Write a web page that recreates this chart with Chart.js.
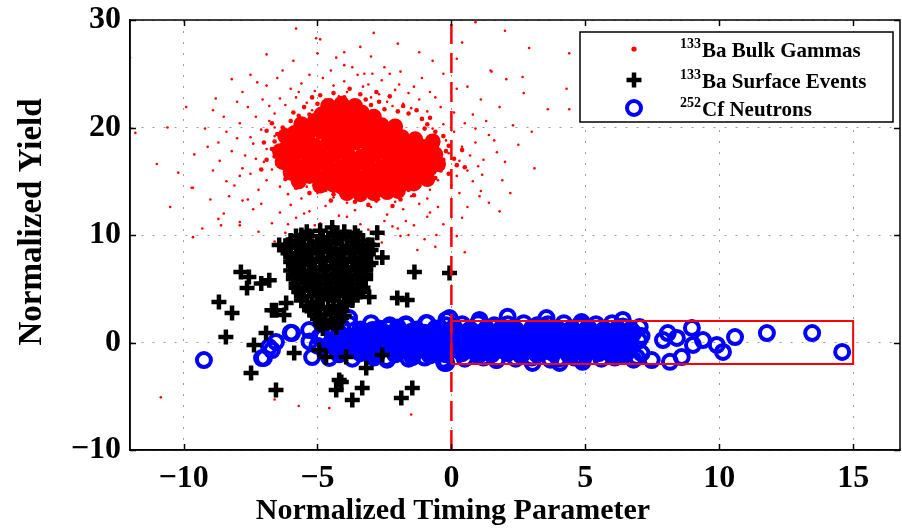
<!DOCTYPE html>
<html>
<head>
<meta charset="utf-8">
<title>Normalized Yield vs Timing Parameter</title>
<script src="https://cdn.jsdelivr.net/npm/chart.js@4.4.1/dist/chart.umd.min.js"></script>
<style>
  html, body { margin: 0; padding: 0; background: #fff; overflow: hidden; }
  #wrap { position: relative; width: 902px; height: 529px; }
</style>
</head>
<body>
<div id="wrap"><canvas id="scatter" width="902" height="529"></canvas></div>
<script>
// Achsen
const X_RANGE = [-12, 16.75];
const Y_RANGE = [-10, 30];
const X_TICKS = [-10, -5, 0, 5, 10, 15];
const Y_TICKS = [-10, 0, 10, 20, 30];
const X_TITLE = 'Normalized Timing Parameter';
const Y_TITLE = 'Normalized Yield';

// Legende (Hochzahl + Text)
const LEGEND_SUP = ['133', '133', '252'];
const LEGEND_TEXT = ['Ba Bulk Gammas', 'Ba Surface Events', 'Cf Neutrons'];

// Schnitt bei t = 0 und Signalbox
const cutLineX = [0, 0];
const cutLineY = [-10, 30];
const boxX = [0, 15, 15, 0, 0];
const boxY = [-2, -2, 2, 2, -2];

// 133Ba Bulk-Gammas: dichter Kern (grosse Punkte)
const bulkCore = [
  [-4.6,22.0],[-4.1,22.2],[-3.6,22.0],
  [-4.85,21.2],[-4.35,21.5],[-3.85,21.3],[-3.35,21.4],[-2.9,21.0],
  [-5.6,20.3],[-5.1,20.6],[-4.6,20.4],[-4.1,20.5],[-3.6,20.3],[-3.1,20.5],[-2.6,20.2],[-2.1,20.1],
  [-6.2,19.2],[-5.85,19.5],[-5.35,19.4],[-4.85,19.6],[-4.35,19.4],[-3.85,19.5],[-3.35,19.3],[-2.85,19.4],[-2.35,19.2],[-1.85,19.1],[-1.35,18.9],
  [-6.1,18.3],[-5.6,18.5],[-5.1,18.3],[-4.6,18.5],[-4.1,18.4],[-3.6,18.6],[-3.1,18.4],[-2.6,18.5],[-2.1,18.3],[-1.6,18.4],[-1.1,18.2],[-0.75,18.1],
  [-6.4,17.8],[-0.7,18.7],
  [-6.2,17.3],[-5.85,17.5],[-5.35,17.4],[-4.85,17.3],[-4.35,17.5],[-3.85,17.4],[-3.35,17.3],[-2.85,17.5],[-2.35,17.4],[-1.85,17.3],[-1.35,17.4],[-0.85,17.2],[-0.6,17.5],
  [-6.3,16.8],[-0.5,16.6],
  [-5.9,16.4],[-5.6,16.3],[-5.1,16.5],[-4.6,16.4],[-4.1,16.3],[-3.6,16.5],[-3.1,16.4],[-2.6,16.3],[-2.1,16.5],[-1.6,16.3],[-1.1,16.4],[-0.8,16.2],
  [-6.0,15.8],[-5.7,15.0],[-0.9,15.2],
  [-5.3,15.5],[-4.85,15.3],[-4.35,15.4],[-3.85,15.5],[-3.35,15.3],[-2.85,15.4],[-2.35,15.5],[-1.85,15.3],[-1.35,15.4],[-1.05,15.6],
  [-4.9,14.6],[-4.4,14.7],[-4.1,14.5],[-3.6,14.6],[-3.1,14.7],[-2.6,14.5],[-2.1,14.6],[-1.8,14.8],[-1.4,14.8],
  [-3.9,13.9],[-3.4,13.8],[-2.9,13.9],[-2.4,14.0],[-2.0,14.1]
];

// Uebergangszone um den Kern (mittlere Punkte)
const bulkMid = [
  [-5.9,21.4],[-5.5,21.9],[-5.3,21.2],[-5.0,22.2],[-4.7,21.8],[-4.5,22.5],[-4.2,22.1],[-4.0,22.8],
  [-3.7,22.3],[-3.5,22.0],[-3.2,22.6],[-3.0,22.1],[-2.7,22.4],[-2.5,21.7],[-2.3,22.9],[-2.0,21.5],
  [-1.8,22.0],[-1.6,21.3],[-1.3,21.6],[-1.1,20.8],[-4.4,23.2],[-3.8,23.6],[-5.2,22.8],[-2.8,23.3],
  [-4.9,23.0],[-3.4,23.1],
  [-0.9,20.3],[-0.6,19.6],[-0.3,19.2],[-0.5,18.6],[-0.1,18.3],[-0.2,17.8],[0.1,17.1],[-0.3,17.0],
  [0.2,16.5],[-0.4,16.0],[-0.1,15.7],[-0.6,15.3],[-0.9,14.9],[-1.2,14.6],[0.4,17.9],[0.5,16.3],
  [-0.8,20.9],[-1.0,19.9],
  [-1.6,14.2],[-2.0,13.9],[-2.3,14.3],[-2.6,13.8],[-2.9,14.1],[-3.2,13.7],[-3.5,14.0],[-3.8,13.6],
  [-4.1,14.0],[-4.4,13.8],[-4.7,14.2],[-5.0,14.6],[-1.9,13.3],[-2.8,13.2],[-3.6,13.1],[-4.5,13.2],
  [-5.3,13.9],[-1.4,13.7],[-3.1,12.8],[-2.2,12.7],
  [-5.6,14.9],[-5.9,15.4],[-6.2,16.0],[-6.5,16.6],[-6.6,17.3],[-6.7,18.0],[-6.6,18.7],[-6.5,19.4],
  [-6.3,20.0],[-6.0,20.6],[-5.7,21.1],[-6.9,17.0],[-7.0,18.6],[-6.9,19.7],[-6.2,15.2],[-5.8,14.4],
  [-7.1,16.1],[-6.7,20.4]
];

// Streupunkte rundherum (kleine Punkte)
const bulkHalo = [
  [-6.2,22.1],[-5.8,22.8],[-5.4,22.3],[-5.1,23.4],[-4.7,22.6],[-4.4,23.9],[-4.2,22.9],[-3.9,23.3],
  [-3.6,22.5],[-3.3,23.8],[-3.0,22.8],[-2.7,23.1],[-2.4,22.4],[-2.1,23.5],[-1.8,22.2],[-1.5,21.8],
  [-1.2,22.6],[-0.9,21.5],[-6.6,21.3],[-5.6,24.1],[-4.8,24.6],[-4.0,24.3],[-3.5,24.9],[-2.6,24.4],
  [-2.2,22.0],[-4.6,21.9],[-3.7,21.9],[-5.2,21.6],[-2.9,21.6],[-6.0,23.6],[-1.6,23.2],[-0.6,22.8],
  [-6.8,20.6],[-7.1,19.8],[-6.6,19.2],[-7.4,18.5],[-6.9,18.0],[-7.7,17.4],[-7.0,16.8],[-6.7,16.1],
  [-7.5,15.7],[-6.9,15.1],[-6.4,14.5],[-7.2,14.2],[-6.1,13.8],[-8.0,19.0],[-7.8,16.2],[-7.3,21.0],
  [-8.2,17.8],[-6.5,17.5],[-6.6,20.0],[-7.9,20.4],[-8.4,15.0],[-7.6,13.3],
  [-0.3,20.3],[0.1,19.6],[-0.2,18.8],[0.4,18.2],[-0.1,17.6],[0.3,16.9],[0.7,17.4],[-0.3,16.2],
  [0.2,15.5],[0.6,16.0],[-0.5,15.1],[0.9,18.6],[1.2,17.0],[0.5,20.4],[-0.7,19.9],[0.0,14.6],
  [-0.8,14.2],[0.8,15.0],[1.4,19.3],[1.1,14.1],
  [-6.0,12.8],[-5.6,13.4],[-5.3,12.2],[-5.0,13.9],[-4.7,12.7],[-4.4,13.5],[-4.2,11.8],[-3.9,13.0],
  [-3.6,12.3],[-3.3,13.8],[-3.0,12.6],[-2.7,13.3],[-2.4,11.9],[-2.1,13.1],[-1.8,12.4],[-1.5,13.6],
  [-1.2,12.9],[-0.9,13.4],[-0.5,12.6],[-5.8,11.6],[-4.9,11.1],[-3.4,11.0],[-2.8,10.8],[-1.7,11.3],
  [-4.5,10.6],[-3.8,14.2],[-2.3,14.1],[-1.3,14.3],[-5.4,14.5],[-6.4,12.1],[-5.1,10.9],[-2.0,10.6],
  [-5.05,28.3],[-4.9,28.2],[-4.0,27.0],[-5.9,26.2],[-4.0,25.8],[-7.5,24.9],[-7.25,24.2],[-6.9,23.9],
  [-7.05,22.6],[-8.4,19.6],[-8.65,16.9],[-9.65,14.4],[-9.3,10.6],[-8.5,12.0],[-7.8,13.2],[-7.9,11.2],
  [-0.7,26.2],[-2.3,25.0],[-3.25,25.0],[-2.95,25.0],[1.5,25.2],[1.1,22.6],[1.6,18.8],[1.15,15.6],
  [1.05,13.6],[0.6,12.6],[-0.8,12.1],[-2.2,10.8],[0.9,29.8],[2.0,29.0],[2.9,27.4],[4.4,26.9],
  [0.2,26.4],[1.46,25.3],[-0.3,25.0],[2.05,24.5],[2.66,24.7],[2.7,23.2],[4.3,23.6],[0.6,23.8],
  [0.2,23.6],[3.6,21.7],[4.4,21.7],[-1.4,23.8],[-1.95,24.0],[-12.0,26.5],[-11.8,19.5],[-10.6,20.0],
  [-11.0,16.6],[-9.7,14.4],[-9.65,9.8],[-10.85,-5.1],[-6.6,-5.3],[-5.7,-5.9],[-4.56,-6.1],[-1.5,-6.7],
  [-8.9,21.6],[-9.1,18.2],[-8.8,22.7],[-6.3,25.3],[-3.0,26.6],[-2.0,27.8],[2.3,20.2],[2.0,16.8],
  [1.8,12.2],[-1.0,9.6],[-6.6,9.4],[-7.2,10.3],[-3.1,9.2],[-1.27,8.6],[-1.6,10.0],[-0.56,10.0],
  [-8.6,10.9],[-6.7,11.1],[-7.9,10.9],
  [-6.4,22.7],[-5.7,23.3],[-5.3,24.9],[-4.5,25.3],[-3.7,25.6],[-3.1,24.0],[-2.5,25.6],[-1.9,25.2],
  [-1.1,24.6],[-0.8,23.3],[-0.4,21.9],[-6.8,22.0],[-7.6,21.9],[-7.8,23.3],[-6.5,24.6],[-4.3,26.5],
  [-5.0,26.9],[-3.4,27.5],[-6.9,26.8],[-8.2,24.5],[-2.9,28.8],[-1.2,27.0],[0.4,27.9],[-5.8,29.2],
  [-8.5,21.0],[-9.2,19.9],[-8.7,18.6],[-9.6,17.5],[-8.9,16.0],[-8.1,14.6],[-9.0,13.3],[-8.3,13.6],
  [-7.4,12.4],[-8.7,11.5],[-10.2,15.8],[-9.9,21.9],[-10.5,12.6],[-7.1,12.9],[-8.0,22.4],[-7.5,19.1],
  [-7.3,17.1],[-7.9,15.5],
  [0.8,21.2],[1.3,20.6],[0.9,19.9],[1.7,17.7],[1.0,16.4],[1.9,15.1],[1.4,13.0],[0.3,13.9],
  [0.4,11.6],[2.5,18.4],[2.2,13.9],[3.1,16.2],[1.8,21.9],[3.0,19.6],[0.1,21.4],
  [-6.1,11.0],[-5.5,12.0],[-4.8,10.1],[-3.9,11.7],[-3.1,10.5],[-2.5,11.3],[-1.4,10.9],[-0.3,11.0],
  [-0.9,11.7],[-1.9,9.9],[-3.6,9.8],[-5.4,10.5],[-2.6,9.3],[0.2,9.9],[-4.2,9.1],[-6.2,10.2],
  [-0.6,8.9],[0.5,8.4]
];

// 133Ba Oberflaechen-Ereignisse
const surfaceEvents = [
  [-5.4,10.3],[-4.9,10.4],[-4.4,10.2],[-4.0,10.3],[-3.6,10.2],
  [-5.8,9.9],[-5.3,9.9],[-4.8,9.8],[-4.3,9.9],[-3.9,9.8],[-3.5,9.9],
  [-6.0,9.5],[-5.5,9.6],[-5.0,9.4],[-4.6,9.5],[-4.1,9.6],[-3.7,9.4],[-3.3,9.5],
  [-6.1,9.1],[-5.6,9.1],[-5.2,9.0],[-4.7,9.1],[-4.3,9.2],[-3.9,9.0],[-3.5,9.1],[-3.1,9.1],
  [-6.2,8.7],[-5.7,8.8],[-5.3,8.6],[-4.9,8.7],[-4.5,8.8],[-4.1,8.6],[-3.7,8.7],[-3.3,8.8],[-3.0,8.6],
  [-6.1,8.3],[-5.8,8.3],[-5.4,8.2],[-5.0,8.3],[-4.6,8.4],[-4.2,8.2],[-3.8,8.3],[-3.4,8.3],[-3.1,8.2],
  [-6.0,7.9],[-5.6,8.0],[-5.2,7.8],[-4.8,7.9],[-4.4,8.0],[-4.0,7.8],[-3.6,7.9],[-3.2,8.0],
  [-6.0,7.5],[-5.7,7.5],[-5.3,7.4],[-4.9,7.5],[-4.5,7.6],[-4.1,7.4],[-3.7,7.5],[-3.3,7.5],[-3.0,7.4],
  [-5.9,7.1],[-5.5,7.2],[-5.1,7.0],[-4.7,7.1],[-4.3,7.2],[-3.9,7.0],[-3.5,7.1],[-3.1,7.2],
  [-6.0,6.7],[-5.6,6.7],[-5.2,6.6],[-4.8,6.7],[-4.4,6.8],[-4.0,6.6],[-3.6,6.7],[-3.2,6.7],
  [-5.9,6.3],[-5.5,6.4],[-5.1,6.2],[-4.7,6.3],[-4.3,6.4],[-3.9,6.2],[-3.5,6.3],[-3.2,6.3],
  [-5.9,5.9],[-5.5,5.9],[-5.1,5.8],[-4.7,5.9],[-4.3,6.0],[-3.9,5.8],[-3.5,5.9],[-3.2,5.9],
  [-5.8,5.5],[-5.4,5.6],[-5.0,5.4],[-4.6,5.5],[-4.2,5.6],[-3.8,5.4],[-3.4,5.5],
  [-5.8,5.1],[-5.3,5.1],[-4.9,5.0],[-4.5,5.1],[-4.1,5.2],[-3.7,5.0],[-3.3,5.1],
  [-5.7,4.7],[-5.3,4.8],[-4.9,4.6],[-4.5,4.7],[-4.1,4.8],[-3.7,4.6],[-3.4,4.7],
  [-5.6,4.3],[-5.2,4.3],[-4.8,4.2],[-4.4,4.3],[-4.0,4.4],[-3.7,4.2],
  [-5.6,3.9],[-5.2,3.8],[-4.8,4.0],[-4.4,3.9],[-4.0,3.8],[-3.7,3.9],
  [-5.4,3.4],[-5.0,3.4],[-4.6,3.3],[-4.2,3.4],[-3.9,3.5],
  [-5.3,3.0],[-4.9,3.1],[-4.5,2.9],[-4.1,3.0],
  [-5.1,2.6],[-4.7,2.6],[-4.3,2.7],[-4.0,2.5],
  [-5.0,2.2],[-4.5,2.1],[-4.1,2.3],
  [-4.9,1.7],[-4.4,1.8],
  [-4.8,1.3],[-4.3,1.4],
  [-4.45,10.7],[-2.77,10.2],[-5.6,10.0],[-6.43,9.07],[-2.95,9.07],[-2.58,7.9],[-7.86,6.56],[-7.56,6.1],
  [-7.1,5.5],[-6.8,5.8],[-7.63,5.07],[-1.38,6.56],[-0.07,6.47],[-8.68,3.77],[-8.19,2.74],[-3.07,4.23],
  [-2.02,4.14],[-1.65,3.95],[-6.55,3.0],[-6.92,0.88],[-8.42,0.51],[-7.37,-0.23],[-5.87,-0.98],[-7.48,-2.84],
  [-6.55,-4.42],[-4.11,-3.67],[-4.30,-4.42],[-3.7,-5.35],[-3.33,-4.23],[-1.87,-5.16],[-1.46,-4.23],[-2.58,-1.16],
  [-3.18,-2.37],[-3.93,-1.35],[-4.94,-0.7],[-4.68,-1.35],[-4.19,-3.49],[-6.25,2.56],[-6.17,3.67],[-6.7,3.0]
];

// 252Cf Neutronen: einzelne Ringe und Randreihen des Bandes
const cfNeutrons = [
  [10.59,0.51],[11.78,0.88],[13.47,0.88],[14.59,-0.88],[10.14,-0.88],[9.91,-0.23],[9.39,0.23],[8.98,1.35],
  [9.02,-0.23],[8.08,0.88],[7.9,0.23],[8.42,0.42],[8.6,-1.35],[8.16,-1.8],[7.48,-1.63],[7.03,1.44],
  [6.4,2.1],[6.92,-1.35],[1.68,-1.63],[3.03,-1.9],[4.04,-1.9],[4.9,-1.8],[-0.26,-1.9],[2.1,2.4],
  [3.55,2.28],[1.05,2.1],[4.86,1.9],[-0.07,2.28],[-9.24,-1.63],[-7.0,-1.44],[-6.81,-0.42],[-6.55,0.05],
  [-5.95,0.88],[-5.31,1.16],[-4.94,0.51],[-5.2,-1.35],[-4.56,-1.44],[-3.82,2.28],[-4.08,1.44],[-3.44,0.88],
  [-2.95,1.16],[-2.32,1.35],[-1.68,1.63],[-0.94,1.81],[-0.19,2.1],[-2.43,-1.44],[-1.46,-1.35],[-0.19,-1.9],
  [-2.95,-0.7],[-3.82,-0.42],[-7.07,-1.45],[-6.7,-0.7],[-6.0,0.9],
  [-3.8,1.7],[-3.0,1.8],[-2.3,1.6],[-1.7,1.7],[-0.9,1.8],[-0.2,1.6],[0.4,1.7],[1.0,1.8],[1.6,1.6],
  [2.1,1.7],[2.7,1.8],[3.2,1.6],[3.6,1.7],[4.2,1.8],[4.9,1.6],[5.4,1.7],[6.0,1.8],[6.4,1.5],
  [-3.7,-1.5],[-2.9,-1.4],[-2.4,-1.6],[-1.6,-1.5],[-1.0,-1.4],[-0.3,-1.6],[0.5,-1.5],[1.2,-1.4],
  [1.7,-1.6],[2.4,-1.5],[3.0,-1.4],[3.7,-1.6],[4.0,-1.5],[4.6,-1.4],[4.9,-1.6],[5.6,-1.5],
  [6.1,-1.4],[6.8,-1.6],
  [-5.0,-0.3],[-4.8,0.5],[-5.3,0.1],[-4.6,-0.7],[-4.4,1.3],[-4.2,-1.1],[7.1,0.6],[7.0,0.2],[7.1,-1.0]
];

// 252Cf Neutronen: dicht ueberlappende Ereignisse im Inneren des Bandes
const cfBand = [
  [-3.4,1.2],[-2.7,1.3],[-2.0,1.4],[-1.3,1.2],[-0.6,1.3],[0.1,1.4],[0.7,1.2],[1.3,1.3],
  [1.9,1.4],[2.4,1.2],[3.0,1.3],[3.5,1.4],[4.0,1.2],[4.5,1.3],[5.1,1.4],[5.7,1.2],[6.2,1.3],[6.7,1.2],
  [-4.2,0.9],[-3.4,0.8],[-2.9,1.0],[-2.5,0.9],[-2.0,0.8],[-1.5,1.0],[-1.0,0.9],[-0.6,0.8],[-0.1,1.0],
  [0.3,0.9],[0.7,0.8],[1.2,1.0],[1.6,0.9],[2.0,0.8],[2.4,1.0],[2.9,0.9],[3.3,0.8],[3.7,1.0],
  [4.2,0.9],[4.6,0.8],[5.0,1.0],[5.5,0.9],[5.9,0.8],[6.3,1.0],[6.8,0.9],
  [-4.2,0.4],[-3.8,0.6],[-3.4,0.5],[-3.0,0.4],[-2.6,0.6],[-2.2,0.5],[-1.8,0.4],[-1.4,0.6],
  [-1.0,0.5],[-0.6,0.4],[-0.2,0.6],[0.2,0.5],[0.6,0.4],[1.0,0.6],[1.4,0.5],[1.8,0.4],[2.2,0.6],
  [2.6,0.5],[3.0,0.4],[3.4,0.6],[3.8,0.5],[4.2,0.4],[4.6,0.6],[5.0,0.5],[5.4,0.4],[5.8,0.6],
  [6.2,0.5],[6.6,0.4],
  [-4.5,0.0],[-4.0,0.2],[-3.6,0.1],[-3.2,0.0],[-2.8,0.2],[-2.4,0.1],[-2.0,0.0],[-1.6,0.2],
  [-1.2,0.1],[-0.8,0.0],[-0.4,0.2],[0.0,0.1],[0.4,0.0],[0.8,0.2],[1.2,0.1],[1.6,0.0],[2.0,0.2],
  [2.4,0.1],[2.8,0.0],[3.2,0.2],[3.6,0.1],[4.0,0.0],[4.4,0.2],[4.8,0.1],[5.2,0.0],[5.6,0.2],
  [6.0,0.1],[6.5,0.0],
  [-4.4,-0.4],[-3.9,-0.2],[-3.4,-0.3],[-3.0,-0.4],[-2.6,-0.2],[-2.2,-0.3],[-1.8,-0.4],
  [-1.4,-0.2],[-1.0,-0.3],[-0.6,-0.4],[-0.2,-0.2],[0.2,-0.3],[0.6,-0.4],[1.0,-0.2],[1.4,-0.3],
  [1.8,-0.4],[2.2,-0.2],[2.6,-0.3],[3.0,-0.4],[3.4,-0.2],[3.8,-0.3],[4.2,-0.4],[4.6,-0.2],
  [5.0,-0.3],[5.4,-0.4],[5.8,-0.2],[6.2,-0.3],[6.7,-0.4],
  [-4.1,-0.8],[-3.6,-0.6],[-3.1,-0.7],[-2.7,-0.8],[-2.2,-0.6],[-1.8,-0.7],[-1.3,-0.8],
  [-0.9,-0.6],[-0.5,-0.7],[-0.1,-0.8],[0.3,-0.6],[0.7,-0.7],[1.1,-0.8],[1.5,-0.6],[1.9,-0.7],
  [2.3,-0.8],[2.7,-0.6],[3.1,-0.7],[3.5,-0.8],[3.9,-0.6],[4.3,-0.7],[4.7,-0.8],[5.1,-0.6],
  [5.5,-0.7],[5.9,-0.8],[6.3,-0.6],
  [-3.4,-1.0],[-2.8,-1.2],[-2.1,-1.1],[-1.5,-1.0],[-0.8,-1.2],[-0.2,-1.1],[0.4,-1.0],
  [1.0,-1.2],[1.5,-1.1],[2.1,-1.0],[2.6,-1.2],[3.2,-1.1],[3.8,-1.0],[4.4,-1.2],[5.0,-1.1],
  [5.5,-1.0],[6.0,-1.2],[6.5,-1.1]
];

const toXY = pts => pts.map(([x, y]) => ({ x, y }));
const zip = (xs, ys) => xs.map((x, i) => ({ x, y: ys[i] }));
const fmtTick = v => (v < 0 ? '\u2212' + Math.abs(v) : String(v));

const SERIF = "'Liberation Serif', 'Times New Roman', serif";
Chart.defaults.font.family = SERIF;
Chart.defaults.color = '#000';

// Rahmen, Innenticks, Achsentitel und Legende im MATLAB-Stil
const matlabFrame = {
  id: 'matlabFrame',
  afterDatasetsDraw(chart) {
    const { ctx, chartArea: a, scales } = chart;
    ctx.save();
    ctx.strokeStyle = '#000';
    ctx.lineWidth = 1.5;
    ctx.strokeRect(a.left, a.top, a.right - a.left, a.bottom - a.top);
    ctx.beginPath();
    X_TICKS.forEach(v => {
      const px = Math.round(scales.x.getPixelForValue(v)) + 0.5;
      ctx.moveTo(px, a.bottom); ctx.lineTo(px, a.bottom - 6);
      ctx.moveTo(px, a.top); ctx.lineTo(px, a.top + 6);
    });
    Y_TICKS.forEach(v => {
      const py = Math.round(scales.y.getPixelForValue(v)) + 0.5;
      ctx.moveTo(a.left, py); ctx.lineTo(a.left + 6, py);
      ctx.moveTo(a.right, py); ctx.lineTo(a.right - 6, py);
    });
    ctx.stroke();
    ctx.restore();
  },
  afterDraw(chart) {
    const { ctx } = chart;
    ctx.save();
    ctx.fillStyle = '#000';

    // Achsentitel
    ctx.font = 'bold 30px ' + SERIF;
    ctx.textAlign = 'center';
    ctx.textBaseline = 'alphabetic';
    ctx.fillText(X_TITLE, 453, 519);
    ctx.save();
    ctx.translate(41, 222);
    ctx.rotate(-Math.PI / 2);
    ctx.font = 'bold 33px ' + SERIF;
    ctx.fillText(Y_TITLE, 0, 0);
    ctx.restore();

    // Legende
    const box = { x: 580, y: 32, w: 313, h: 90 };
    ctx.fillStyle = '#fff';
    ctx.fillRect(box.x, box.y, box.w, box.h);
    ctx.strokeStyle = '#000';
    ctx.lineWidth = 1.5;
    ctx.strokeRect(box.x, box.y, box.w, box.h);

    const rowY = [49, 80, 108];
    const mx = 634;
    ctx.fillStyle = '#ff0000';
    ctx.beginPath(); ctx.arc(mx, rowY[0], 2.6, 0, Math.PI * 2); ctx.fill();
    ctx.strokeStyle = '#000'; ctx.lineWidth = 4.5;
    ctx.beginPath();
    ctx.moveTo(mx - 7.5, rowY[1]); ctx.lineTo(mx + 7.5, rowY[1]);
    ctx.moveTo(mx, rowY[1] - 7.5); ctx.lineTo(mx, rowY[1] + 7.5);
    ctx.stroke();
    ctx.strokeStyle = '#0000ff'; ctx.lineWidth = 4;
    ctx.beginPath(); ctx.arc(mx, rowY[2], 7, 0, Math.PI * 2); ctx.stroke();

    ctx.fillStyle = '#000';
    ctx.textAlign = 'left';
    LEGEND_TEXT.forEach((t, i) => {
      const base = rowY[i] + 8;
      ctx.font = 'bold 14px ' + SERIF;
      ctx.fillText(LEGEND_SUP[i], 680, base - 9);
      const w = ctx.measureText(LEGEND_SUP[i]).width;
      ctx.font = 'bold 21px ' + SERIF;
      ctx.fillText(t, 680 + w + 1, base);
    });
    ctx.restore();
  }
};

const pointSet = (label, pts, opts) => ({
  label,
  data: toXY(pts),
  showLine: false,
  pointStyle: 'circle',
  ...opts
});

const redDots = (r, order) => ({
  order, pointRadius: r, pointBorderWidth: 0,
  pointBackgroundColor: '#ff0000', pointBorderColor: '#ff0000'
});

new Chart(document.getElementById('scatter'), {
  type: 'scatter',
  data: {
    datasets: [
      pointSet('133Ba Bulk Gammas', bulkHalo, redDots(1.3, 9)),
      pointSet('133Ba Bulk Gammas (Rand)', bulkMid, redDots(2.3, 8)),
      pointSet('133Ba Bulk Gammas (Kern)', bulkCore, redDots(8, 7)),
      pointSet('252Cf Neutrons (Band)', cfBand, {
        order: 5, pointRadius: 8, pointBorderWidth: 2,
        pointBackgroundColor: '#0000ff', pointBorderColor: '#0000ff'
      }),
      pointSet('252Cf Neutrons', cfNeutrons, {
        order: 4, pointRadius: 7, pointBorderWidth: 4,
        pointBackgroundColor: 'rgba(0,0,0,0)', pointBorderColor: '#0000ff'
      }),
      pointSet('133Ba Surface Events', surfaceEvents, {
        order: 3, pointStyle: 'cross', pointRadius: 7.5, pointBorderWidth: 4.5,
        pointBorderColor: '#000', pointBackgroundColor: '#000'
      }),
      {
        label: 'Signalbox',
        data: zip(boxX, boxY),
        showLine: true, order: 2,
        borderColor: '#ff0000', borderWidth: 2, pointRadius: 0, fill: false
      },
      {
        label: 'Schnitt t = 0',
        data: zip(cutLineX, cutLineY),
        showLine: true, order: 1,
        borderColor: '#ff0000', borderWidth: 2.5, borderDash: [20, 9], pointRadius: 0, fill: false
      }
    ]
  },
  options: {
    responsive: false,
    devicePixelRatio: 1,
    animation: false,
    events: [],
    layout: { autoPadding: false, padding: { top: 20, right: 2, left: 0, bottom: 0 } },
    plugins: { legend: { display: false }, tooltip: { enabled: false } },
    scales: {
      x: {
        type: 'linear',
        min: X_RANGE[0], max: X_RANGE[1],
        afterBuildTicks: s => { s.ticks = X_TICKS.map(v => ({ value: v })); },
        afterFit: s => { s.height = 79; s.paddingLeft = 0; s.paddingRight = 0; },
        ticks: {
          callback: fmtTick, padding: 10, maxRotation: 0, autoSkip: false,
          font: { family: SERIF, size: 32, weight: 'bold' }, color: '#000'
        },
        grid: { color: '#9c9c9c', lineWidth: 1, drawTicks: false },
        border: { display: true, color: '#000', width: 1.5, dash: [2, 9] }
      },
      y: {
        type: 'linear',
        min: Y_RANGE[0], max: Y_RANGE[1],
        afterBuildTicks: s => { s.ticks = Y_TICKS.map(v => ({ value: v })); },
        afterFit: s => { s.width = 130; s.paddingTop = 0; s.paddingBottom = 0; },
        ticks: {
          callback: fmtTick, padding: 9, autoSkip: false,
          font: { family: SERIF, size: 32, weight: 'bold' }, color: '#000'
        },
        grid: { color: '#9c9c9c', lineWidth: 1, drawTicks: false },
        border: { display: true, color: '#000', width: 1.5, dash: [2, 9] }
      }
    }
  },
  plugins: [matlabFrame]
});
</script>
</body>
</html>
